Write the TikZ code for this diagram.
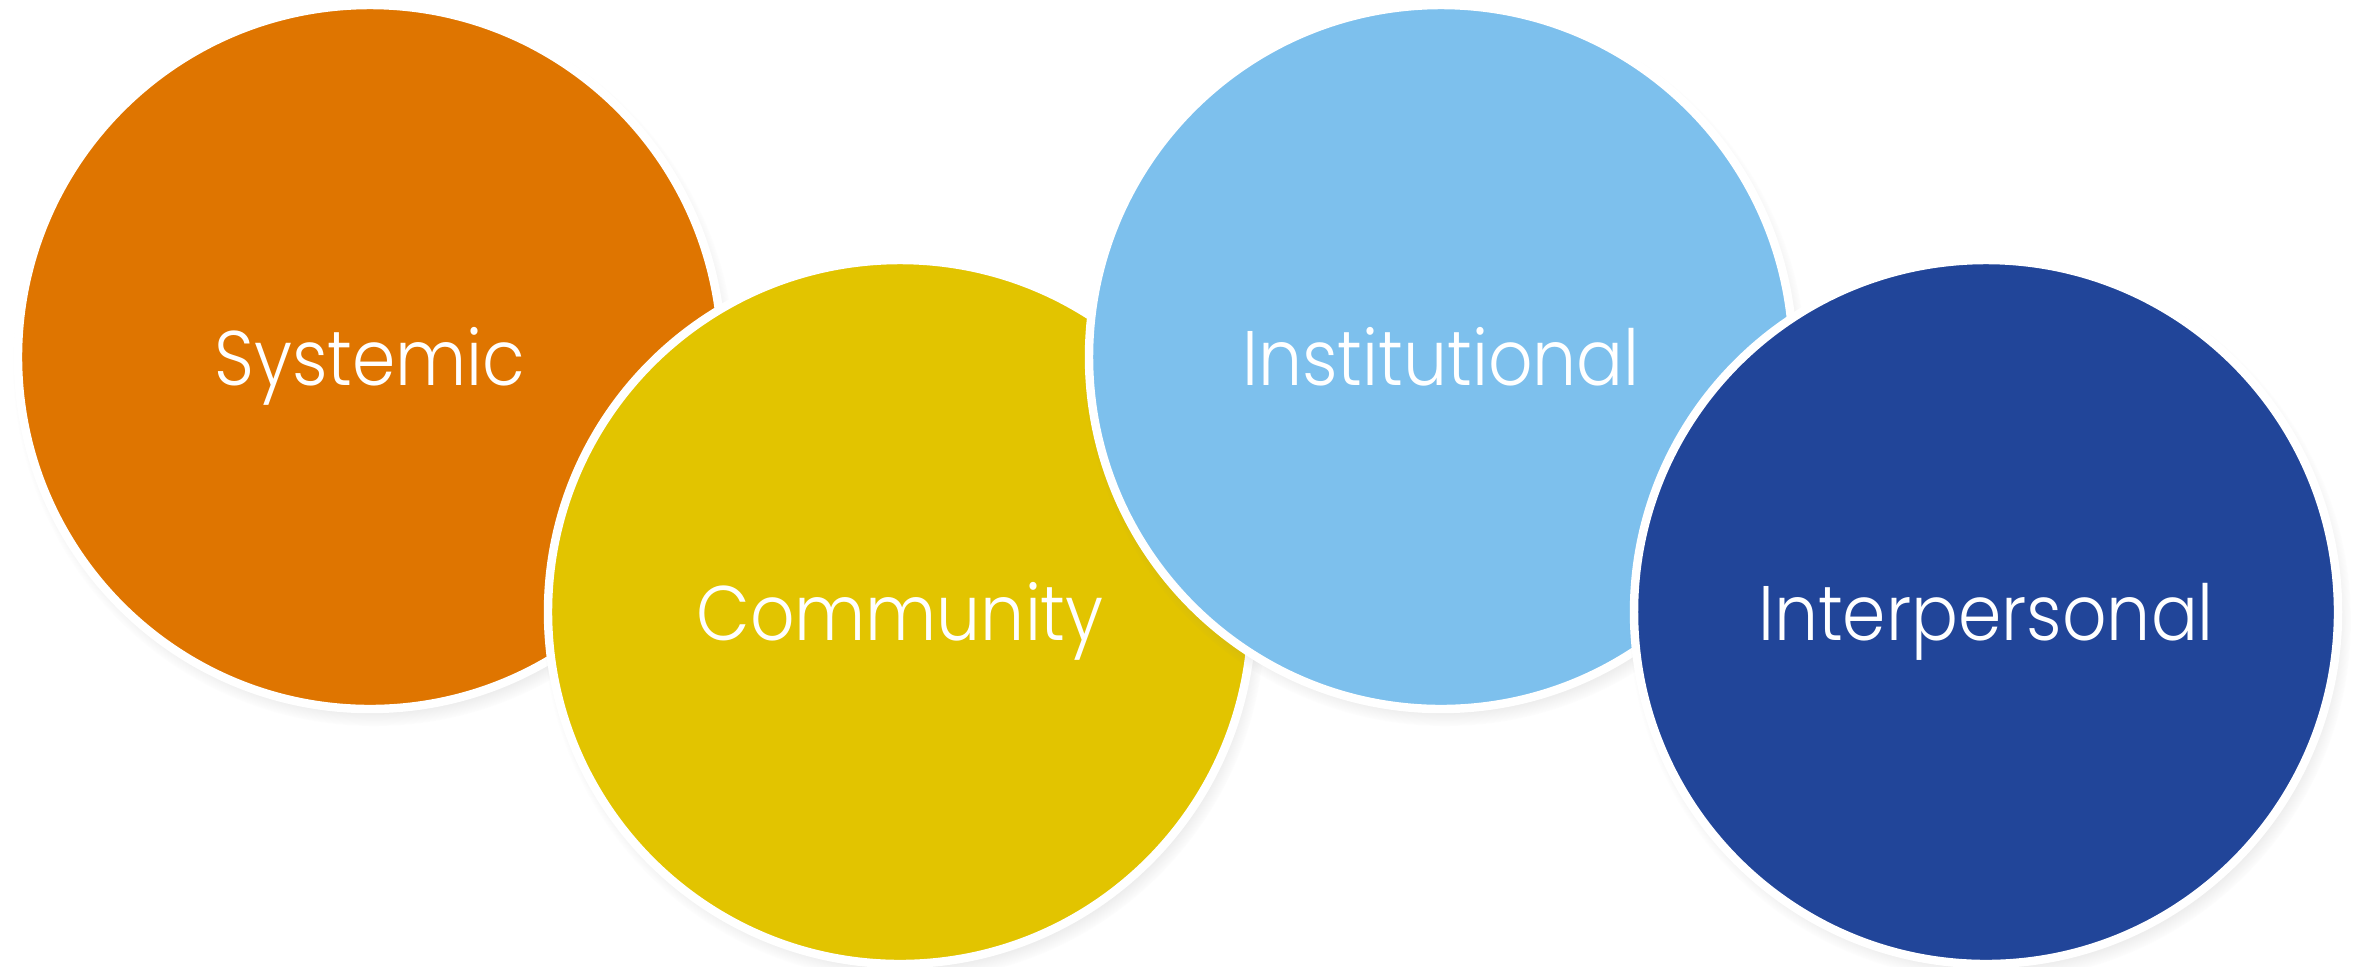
\documentclass[tikz,border=0pt]{standalone}
\usepackage{fontspec}
\setmainfont{Poppins Light}[FakeStretch=0.9]
\usepackage{tikz}
\usetikzlibrary{positioning, shadows}
\definecolor{sysorange}{HTML}{DF7500}
\definecolor{comyellow}{HTML}{E2C400}
\definecolor{instblue}{HTML}{7DC0ED}
\definecolor{persblue}{HTML}{214599}
\tikzset{
	level/.append style={
		circle,
		draw=white,
		line width=2.4pt,
		minimum size=7.04cm,
		inner sep=0mm,
		text=white,
		text height=0.56cm,
		text depth=0pt,
		font={\fontsize{22}{26}\selectfont},
		circular drop shadow={shadow scale=1.025, shadow xshift=0.4mm, shadow yshift=-0.8mm, opacity=0.5}
	}
}

\begin{document}
\begin{tikzpicture}[]

\useasboundingbox (0,0) rectangle (23.59,-9.66);

\node(sys)[level, fill=sysorange] at (3.70,-3.57){Systemic};
\node(com)[level, fill=comyellow] at (9.00,-6.12){Community};
\node(inst)[level, fill=instblue] at (14.41,-3.57){Institutional};
\node(pers)[level, fill=persblue] at (19.86,-6.12){Interpersonal};

\end{tikzpicture}
\end{document}
